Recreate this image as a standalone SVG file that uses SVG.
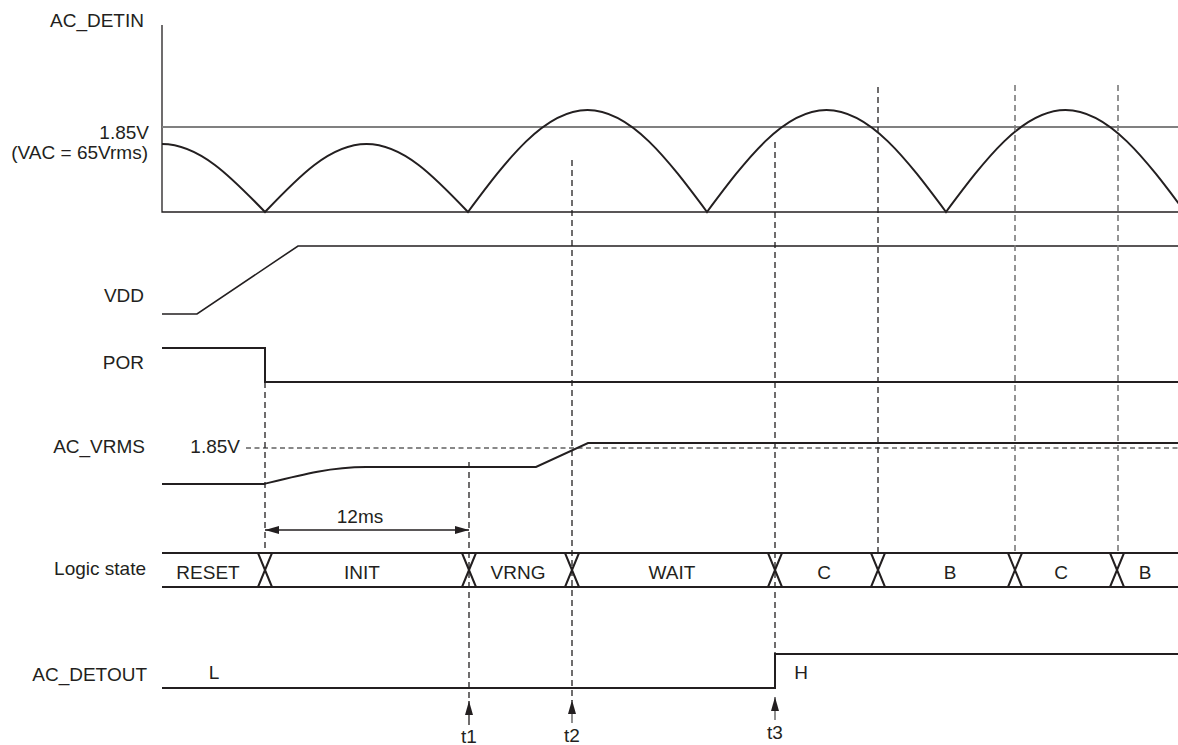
<svg xmlns="http://www.w3.org/2000/svg" width="1178" height="745" viewBox="0 0 1178 745">
<defs>
<style>
text{font-family:"Liberation Sans",Arial,Helvetica,sans-serif;font-size:19px;fill:#231f20}
.lbl{text-anchor:end}
.mid{text-anchor:middle}
.sig{fill:none;stroke:#231f20;stroke-width:2;stroke-linejoin:miter}
.thin{fill:none;stroke:#231f20;stroke-width:1.3}
.ref{fill:none;stroke:#808080;stroke-width:1.8}
.dash{fill:none;stroke:#231f20;stroke-width:1.3;stroke-dasharray:6 4}
.dashg{fill:none;stroke:#7a7a7a;stroke-width:1.6;stroke-dasharray:6 4}
.hdash{fill:none;stroke:#888;stroke-width:1.8;stroke-dasharray:5 3.5}
.bus{fill:none;stroke:#231f20;stroke-width:2}
</style>
<marker id="ah" viewBox="0 0 14 8" refX="14" refY="4" markerWidth="14" markerHeight="8" markerUnits="userSpaceOnUse" orient="auto-start-reverse">
<path d="M0,0 L14,4 L0,8 z" fill="#231f20"/>
</marker>
</defs>

<g id="ac_detin">
<text class="mid" x="97" y="27">AC_DETIN</text>
<text class="lbl" x="149" y="139">1.85V</text>
<text class="lbl" x="148" y="159">(VAC = 65Vrms)</text>
<path class="thin" d="M162,25 V212 H1178"/>
<path class="ref" d="M162,127 H1178"/>
<path class="sig" d="M162,144 C199.3,144 231.4,177.2 265,212 C298.1,177.2 329.8,144 366.5,144 C403.2,144 434.9,177.2 468,212 C507,159.7 544.3,110 587.5,110 C630.8,110 668,159.7 707,212 C746,159.7 783.3,110 826.5,110 C869.8,110 907,159.7 946,212 C985,159.7 1022.3,110 1065.5,110 C1108.8,110 1146,159.7 1185,212"/>
</g>

<g id="vdd">
<text class="lbl" x="144" y="302">VDD</text>
<path class="thin" d="M162,314 H197 L298,246 H1178" style="stroke-width:1.6"/>
</g>

<g id="por">
<text class="lbl" x="144" y="369">POR</text>
<path class="sig" d="M162,348 H265 V382 H1178"/>
</g>

<g id="ac_vrms">
<text class="lbl" x="145" y="453">AC_VRMS</text>
<text class="lbl" x="240" y="453">1.85V</text>
<path class="hdash" d="M246,448 H1178"/>
<path class="sig" d="M162,484 H264 C300,475 330,467 366,467 H536 L588,443 H1178"/>
</g>

<g id="logic_state">
<text class="lbl" x="146" y="575">Logic state</text>
<path class="bus" d="M162,553 H1178 M162,587 H1178"/>
<path class="bus" d="M258,553 L272,587 M258,587 L272,553 M462,553 L476,587 M462,587 L476,553 M565,553 L579,587 M565,587 L579,553 M768,553 L782,587 M768,587 L782,553 M871,553 L885,587 M871,587 L885,553 M1008,553 L1022,587 M1008,587 L1022,553 M1110,553 L1124,587 M1110,587 L1124,553"/>
<text class="mid" x="208" y="579">RESET</text>
<text class="mid" x="362" y="579">INIT</text>
<text class="mid" x="518" y="579">VRNG</text>
<text class="mid" x="672" y="579">WAIT</text>
<text class="mid" x="824" y="579">C</text>
<text class="mid" x="950" y="579">B</text>
<text class="mid" x="1061" y="579">C</text>
<text class="mid" x="1145" y="579">B</text>
</g>

<g id="ac_detout">
<text class="lbl" x="147" y="681">AC_DETOUT</text>
<text class="mid" x="214" y="679">L</text>
<text class="mid" x="801" y="679">H</text>
<path class="sig" d="M162,688 H775 V654 H1178"/>
</g>

<g id="connectors">
<path class="dash" d="M265,382 V553"/>
<path class="dash" d="M469,462 V701"/>
<path class="dash" d="M572,160 V701"/>
<path class="dash" d="M775,142 V654"/>
<path class="dash" d="M878,87 V553"/>
<path class="dashg" d="M1015,85 V553"/>
<path class="dashg" d="M1118,85 V553"/>
<path class="thin" d="M265,530 H469" marker-start="url(#ah)" marker-end="url(#ah)"/>
<text class="mid" x="360" y="523">12ms</text>
<path class="thin" d="M469,725 V701" marker-end="url(#ah)"/>
<path class="thin" d="M572,723 V700" marker-end="url(#ah)" style="stroke:#555"/>
<path class="thin" d="M775,720 V697" marker-end="url(#ah)" style="stroke:#555"/>
<text class="mid" x="469" y="743">t1</text>
<text class="mid" x="572" y="742">t2</text>
<text class="mid" x="775" y="739">t3</text>
</g>
</svg>
